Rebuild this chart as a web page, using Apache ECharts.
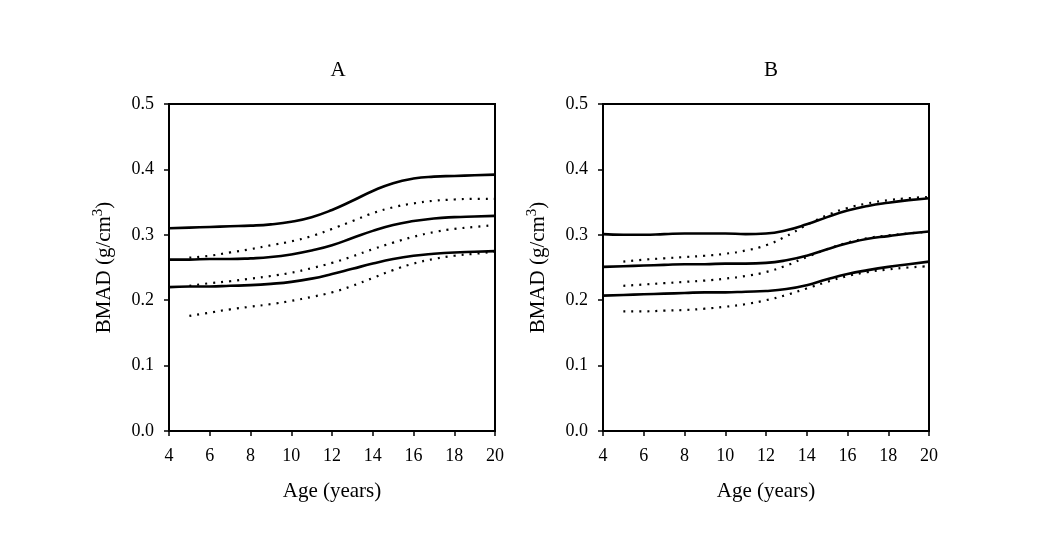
<!DOCTYPE html>
<html><head><meta charset="utf-8">
<script src="https://cdn.jsdelivr.net/npm/echarts@6/dist/echarts.min.js"></script>
<style>html,body{margin:0;padding:0;background:#fff}#c{width:1045px;height:537px}</style>
</head><body><div id="c"></div>
<script>
// Ages for solid curves (from 4) and dotted curves (from 5)
const agesSolid = [4,5,6,7,8,9,10,11,12,13,14,15,16,17,18,19,20];
const agesDot = [5,6,7,8,9,10,11,12,13,14,15,16,17,18,19,20];
const xTicks = [4,6,8,10,12,14,16,18,20];
const yTicks = [0.0,0.1,0.2,0.3,0.4,0.5];

// Panel A
const A_solidHigh = [0.310,0.311,0.312,0.313,0.314,0.316,0.320,0.327,0.338,0.352,0.367,0.379,0.386,0.389,0.390,0.391,0.392];
const A_solidMid  = [0.262,0.262,0.263,0.263,0.264,0.266,0.270,0.276,0.284,0.295,0.306,0.315,0.321,0.325,0.327,0.328,0.329];
const A_solidLow  = [0.220,0.221,0.221,0.222,0.223,0.225,0.228,0.233,0.240,0.248,0.256,0.263,0.268,0.271,0.273,0.274,0.275];
const A_dotHigh = [0.265,0.268,0.273,0.278,0.284,0.290,0.298,0.309,0.321,0.333,0.342,0.348,0.352,0.354,0.355,0.355];
const A_dotMid  = [0.222,0.226,0.229,0.233,0.237,0.242,0.249,0.257,0.267,0.278,0.288,0.297,0.304,0.309,0.312,0.315];
const A_dotLow  = [0.176,0.181,0.186,0.190,0.194,0.199,0.205,0.212,0.222,0.234,0.246,0.256,0.263,0.268,0.271,0.274];

// Panel B
const B_solidHigh = [0.301,0.300,0.300,0.301,0.302,0.302,0.302,0.301,0.302,0.307,0.316,0.327,0.337,0.344,0.349,0.353,0.356];
const B_solidMid  = [0.251,0.252,0.253,0.254,0.255,0.255,0.256,0.256,0.257,0.261,0.268,0.278,0.287,0.294,0.298,0.302,0.305];
const B_solidLow  = [0.207,0.208,0.209,0.210,0.211,0.212,0.212,0.213,0.214,0.217,0.223,0.232,0.240,0.246,0.251,0.255,0.259];
const B_dotHigh = [0.259,0.262,0.264,0.266,0.268,0.271,0.276,0.284,0.298,0.315,0.330,0.341,0.348,0.353,0.356,0.358];
const B_dotMid  = [0.222,0.224,0.226,0.228,0.230,0.233,0.237,0.243,0.253,0.266,0.278,0.288,0.295,0.299,0.302,0.305];
const B_dotLow  = [0.183,0.183,0.184,0.185,0.187,0.190,0.194,0.200,0.208,0.218,0.228,0.237,0.243,0.247,0.250,0.252];

const FONT = '"Liberation Serif", "DejaVu Serif", serif';
const zip = (xs, ys) => xs.map((x,i)=>[x, ys[i]]);

function solid(idx, xs, ys){
  return {type:'line', xAxisIndex:idx, yAxisIndex:idx, data: zip(xs,ys), smooth:true, showSymbol:false,
    lineStyle:{color:'#000', width:2.6}, z:3};
}
function dotted(idx, xs, ys){
  return {type:'line', xAxisIndex:idx, yAxisIndex:idx, data: zip(xs,ys), smooth:true, showSymbol:false,
    lineStyle:{color:'#000', width:2.2, type:[2,6]}, z:2};
}
function xAx(idx){
  return {type:'value', gridIndex:idx, min:4, max:20, interval:2,
    name:'Age (years)', nameLocation:'middle', nameGap:50,
    nameTextStyle:{fontFamily:FONT, fontSize:21, color:'#000'},
    axisLine:{show:true, onZero:false, lineStyle:{color:'#000', width:2}},
    axisTick:{show:true, length:5, lineStyle:{color:'#000', width:1.5}},
    axisLabel:{fontFamily:FONT, fontSize:18, color:'#000', margin:16},
    splitLine:{show:false}};
}
function yAx(idx){
  return {type:'value', gridIndex:idx, min:0, max:0.5, interval:0.1,
    name:'{a|BMAD (g/cm}{s|3}{a|)}', nameLocation:'middle', nameGap:52, nameRotate:90,
    nameTextStyle:{rich:{a:{fontFamily:FONT, fontSize:21, color:'#000'}, s:{fontFamily:FONT, fontSize:15, color:'#000', padding:[0,0,11,0]}}},
    axisLine:{show:true, onZero:false, lineStyle:{color:'#000', width:2}},
    axisTick:{show:true, length:5, lineStyle:{color:'#000', width:1.5}},
    axisLabel:{fontFamily:FONT, fontSize:18, color:'#000', margin:15, formatter:v=>v.toFixed(1)},
    splitLine:{show:false}};
}

const chart = echarts.init(document.getElementById('c'), null, {renderer:'canvas'});
chart.setOption({
  backgroundColor:'#fff',
  animation:false,
  title:[
    {text:'A', left:333, top:55, textAlign:'center', textStyle:{fontFamily:FONT, fontSize:21, fontWeight:'normal', color:'#000'}},
    {text:'B', left:766, top:55, textAlign:'center', textStyle:{fontFamily:FONT, fontSize:21, fontWeight:'normal', color:'#000'}}
  ],
  grid:[
    {left:169, top:104, width:326, height:327, show:true, borderColor:'#000', borderWidth:2, backgroundColor:'transparent'},
    {left:603, top:104, width:326, height:327, show:true, borderColor:'#000', borderWidth:2, backgroundColor:'transparent'}
  ],
  xAxis:[xAx(0), xAx(1)],
  yAxis:[yAx(0), yAx(1)],
  series:[
    solid(0, agesSolid, A_solidHigh), solid(0, agesSolid, A_solidMid), solid(0, agesSolid, A_solidLow),
    dotted(0, agesDot, A_dotHigh), dotted(0, agesDot, A_dotMid), dotted(0, agesDot, A_dotLow),
    solid(1, agesSolid, B_solidHigh), solid(1, agesSolid, B_solidMid), solid(1, agesSolid, B_solidLow),
    dotted(1, agesDot, B_dotHigh), dotted(1, agesDot, B_dotMid), dotted(1, agesDot, B_dotLow)
  ]
});
</script></body></html>
